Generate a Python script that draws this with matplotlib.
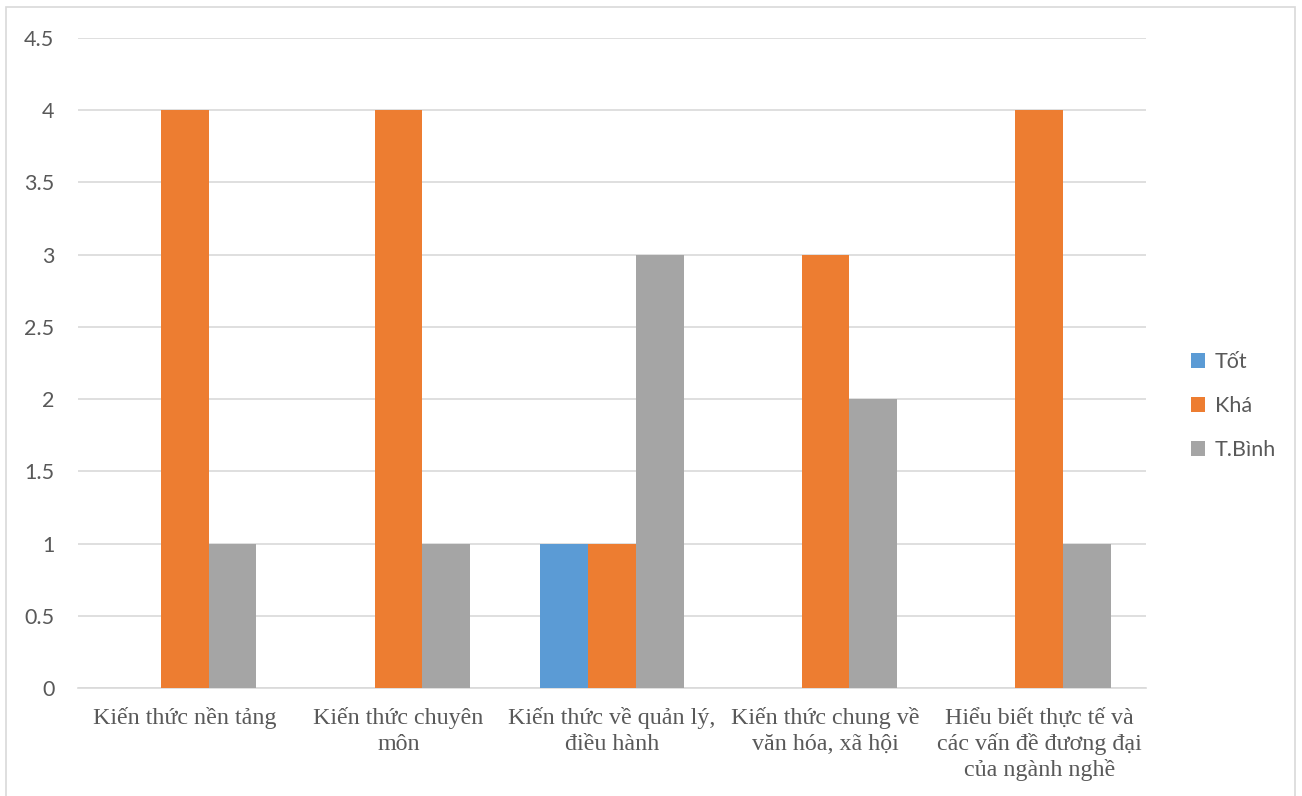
import matplotlib
matplotlib.use("Agg")
import matplotlib.pyplot as plt
import numpy as np
from matplotlib.patches import Rectangle

categories = ["Kiến thức nền tảng", "Kiến thức chuyên\nmôn", "Kiến thức về quản lý,\nđiều hành",
              "Kiến thức chung về\nvăn hóa, xã hội", "Hiểu biết thực tế và\ncác vấn đề đương đại\ncủa ngành nghề"]
series_names = ["Tốt", "Khá", "T.Bình"]
tot = [0, 0, 1, 0, 0]
kha = [4, 4, 1, 3, 4]
tbinh = [1, 1, 3, 2, 1]
yticks = [0, 0.5, 1, 1.5, 2, 2.5, 3, 3.5, 4, 4.5]
colors = ["#5B9BD5", "#ED7D31", "#A5A5A5"]
text_color = "#595959"

fig = plt.figure(figsize=(13.02, 7.96), dpi=100)
fig.patches.append(Rectangle((6/1302, -0.01), (1295-6)/1302, 1 - 7/796 + 0.01, transform=fig.transFigure,
                             fill=False, edgecolor="#D9D9D9", linewidth=1.2))
ax = fig.add_axes([78/1302, 1-688/796, (1146-78)/1302, (688-38)/796])

x = np.arange(len(categories))
w = 0.2235
for i, (vals, name) in enumerate(zip([tot, kha, tbinh], series_names)):
    ax.bar(x + (i-1)*w, vals, width=w, color=colors[i], label=name, zorder=3)

ax.set_xlim(-0.5, len(categories)-0.5)
ax.set_ylim(0, 4.5)
ax.set_yticks(yticks)
ax.set_yticklabels([f"{v:g}" for v in yticks], fontfamily="Lato", fontsize=15.5, color=text_color)
ax.yaxis.grid(True, color="#D9D9D9", linewidth=1.2, zorder=0)
ax.set_axisbelow(True)
ax.tick_params(axis="y", length=0, pad=17)
ax.tick_params(axis="x", length=0, pad=14)
ax.set_xticks(x)
ax.set_xticklabels(categories, fontfamily="Liberation Serif", fontsize=17.3, color=text_color, linespacing=1.26)
for s in ["top", "right", "left"]:
    ax.spines[s].set_visible(False)
ax.spines["bottom"].set_color("#D9D9D9")
ax.spines["bottom"].set_linewidth(1.2)

leg = fig.legend(loc="center left", bbox_to_anchor=(1172/1302, 1-406/796), frameon=False,
                 prop={"family": "Lato", "size": 15.5}, labelcolor=text_color,
                 handlelength=0.65, handleheight=0.65, handletextpad=0.45, labelspacing=1.12)

fig.savefig("out.png", dpi=100)
